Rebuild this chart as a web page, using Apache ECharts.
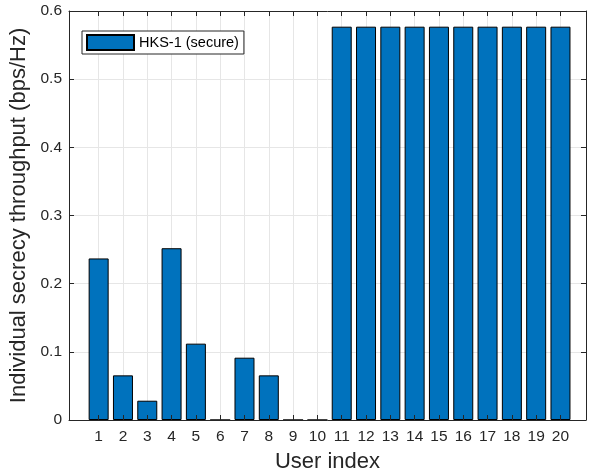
<!DOCTYPE html>
<html>
<head>
<meta charset="utf-8">
<script src="https://cdn.jsdelivr.net/npm/echarts@6/dist/echarts.min.js"></script>
<style>
  html, body { margin: 0; padding: 0; background: #fff; }
  #chart { width: 590px; height: 474px; }
</style>
</head>
<body>
<div id="chart"></div>
<script>
// user indices and the secrecy throughput
const users = [1, 2, 3, 4, 5, 6, 7, 8, 9, 10, 11, 12, 13, 14, 15, 16, 17, 18, 19, 20];
const throughput = [0.237, 0.0655, 0.0283, 0.252, 0.112, 0, 0.0914, 0.0655, 0, 0,
  0.577, 0.577, 0.577, 0.577, 0.577, 0.577, 0.577, 0.577, 0.577, 0.577];
const seriesName = 'HKS-1 (secure)';

const fontFamily = '"Liberation Sans", Arial, sans-serif';
const axisColor = '#262626';
const gridLineColor = '#e6e6e6';
const xMin = -0.22;
const xMax = 21.05;

const chartDom = document.getElementById('chart');
const myChart = echarts.init(chartDom);

const xBase = {
  type: 'value',
  min: xMin,
  max: xMax
};
const yBase = {
  type: 'value',
  min: 0,
  max: 0.6,
  interval: 0.1
};

const option = {
  animation: false,
  textStyle: { fontFamily: fontFamily },
  grid: {
    left: 69,
    right: 4,
    top: 11,
    bottom: 54,
    containLabel: false,
    outerBoundsMode: 'none'
  },
  legend: {
    data: [seriesName],
    left: 82,
    top: 31,
    orient: 'vertical',
    itemWidth: 47,
    itemHeight: 15,
    icon: 'rect',
    padding: [3, 5, 3, 4],
    borderColor: axisColor,
    borderWidth: 1,
    backgroundColor: '#fff',
    textStyle: { fontFamily: fontFamily, fontSize: 14.5, color: '#000' }
  },
  xAxis: [
    Object.assign({}, xBase, {
      position: 'bottom',
      z: 5,
      name: 'User index',
      nameLocation: 'middle',
      nameGap: 31,
      nameTextStyle: { fontFamily: fontFamily, fontSize: 22, color: axisColor },
      axisLine: { show: true, onZero: false, lineStyle: { color: axisColor, width: 1 } },
      axisTick: { show: true, inside: true, length: 5, customValues: users,
        lineStyle: { color: axisColor } },
      axisLabel: { customValues: users, margin: 9, fontSize: 15.5, color: axisColor,
        fontFamily: fontFamily },
      splitLine: { show: false }
    }),
    Object.assign({}, xBase, {
      position: 'top',
      z: 5,
      axisLine: { show: true, onZero: false, lineStyle: { color: axisColor, width: 1 } },
      axisTick: { show: true, inside: true, length: 5, customValues: users,
        lineStyle: { color: axisColor } },
      axisLabel: { show: false },
      splitLine: { show: false }
    }),
    Object.assign({}, xBase, {
      position: 'bottom',
      z: 0,
      axisLine: { show: false },
      axisTick: { show: false, customValues: users },
      axisLabel: { show: false },
      splitLine: { show: true, lineStyle: { color: gridLineColor, width: 1 } }
    })
  ],
  yAxis: [
    Object.assign({}, yBase, {
      position: 'left',
      z: 5,
      name: 'Individual secrecy throughput (bps/Hz)',
      nameLocation: 'middle',
      nameGap: 37,
      nameTextStyle: { fontFamily: fontFamily, fontSize: 22, color: axisColor },
      axisLine: { show: true, onZero: false, lineStyle: { color: axisColor, width: 1 } },
      axisTick: { show: true, inside: true, length: 5, lineStyle: { color: axisColor } },
      axisLabel: { margin: 7, fontSize: 15.5, color: axisColor, fontFamily: fontFamily },
      splitLine: { show: false }
    }),
    Object.assign({}, yBase, {
      position: 'right',
      z: 5,
      axisLine: { show: true, onZero: false, lineStyle: { color: axisColor, width: 1 } },
      axisTick: { show: true, inside: true, length: 5, lineStyle: { color: axisColor } },
      axisLabel: { show: false },
      splitLine: { show: false }
    }),
    Object.assign({}, yBase, {
      position: 'left',
      z: 0,
      axisLine: { show: false },
      axisTick: { show: false },
      axisLabel: { show: false },
      splitLine: { show: true, lineStyle: { color: gridLineColor, width: 1 } }
    })
  ],
  series: [
    {
      name: seriesName,
      type: 'bar',
      xAxisIndex: 0,
      yAxisIndex: 0,
      barWidth: 20,
      z: 2,
      itemStyle: {
        color: '#0072BD',
        borderColor: '#000',
        borderWidth: 1
      },
      data: users.map((u, i) => [u, throughput[i]])
    }
  ]
};

myChart.setOption(option);
</script>
</body>
</html>
